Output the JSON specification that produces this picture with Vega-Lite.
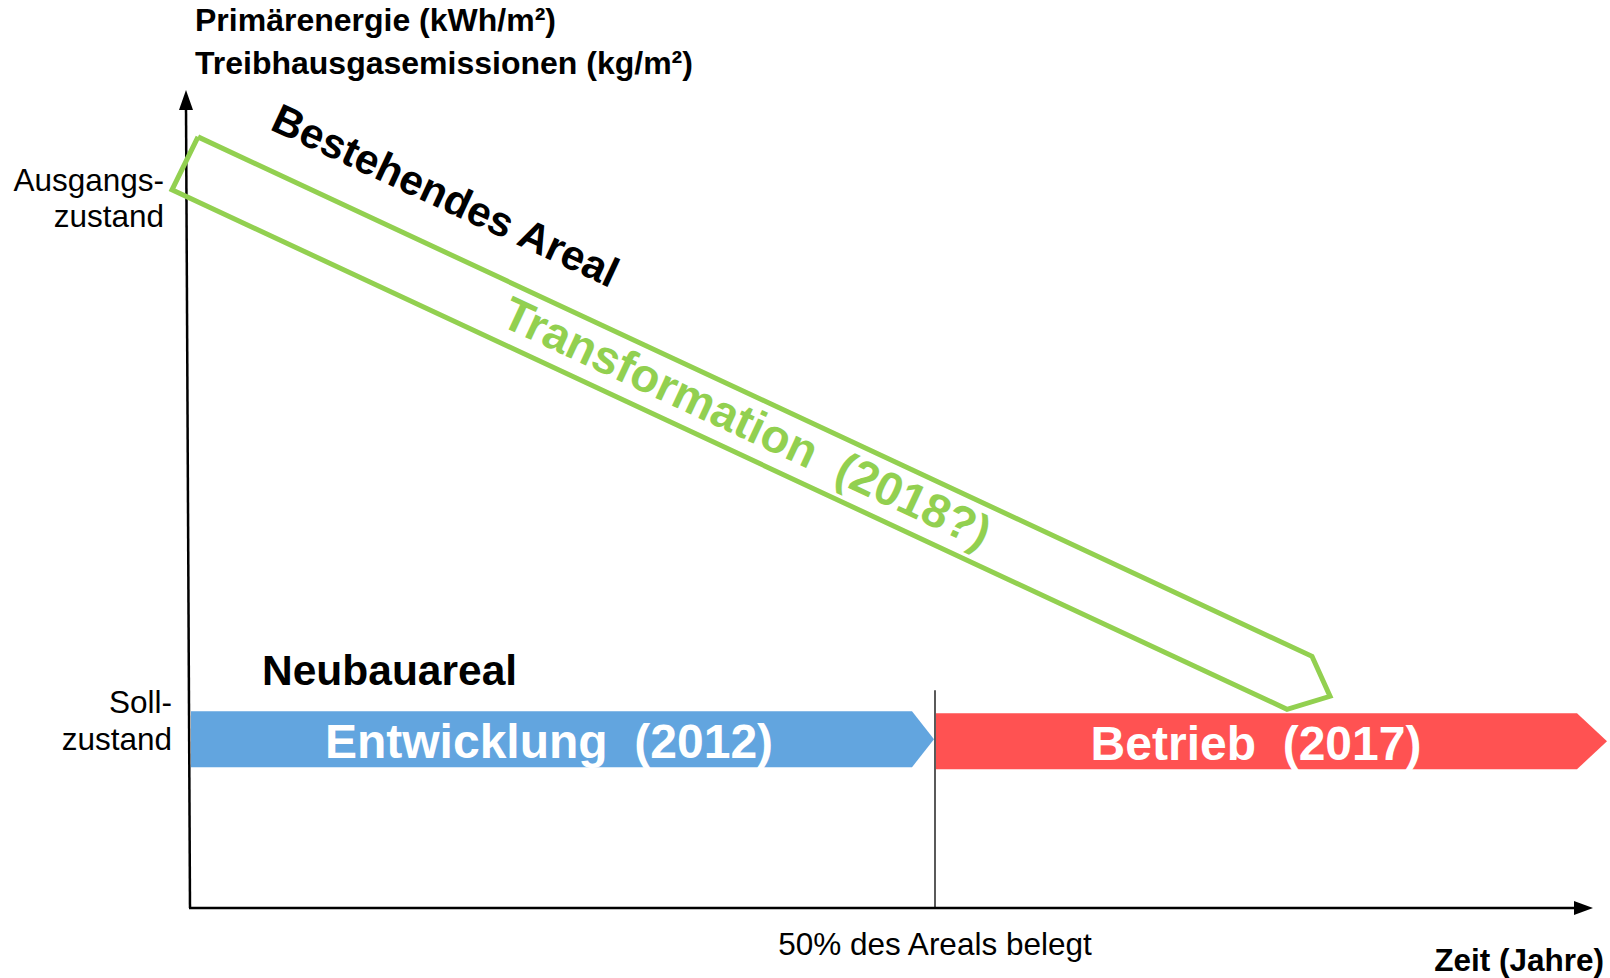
{
  "$schema": "https://vega.github.io/schema/vega-lite/v6.json",
  "width": 1610,
  "height": 978,
  "padding": 0,
  "autosize": {"type": "fit", "contains": "padding"},
  "background": "white",
  "config": {"view": {"stroke": null}, "text": {"font": "Liberation Sans"}},
  "layer": [
    {
      "data": {"values": [
        {"part": "Entwicklung", "x": 191, "y": 712, "y2": 768},
        {"part": "Entwicklung", "x": 912, "y": 712, "y2": 768},
        {"part": "Entwicklung", "x": 934, "y": 740, "y2": 740},
        {"part": "Betrieb", "x": 936, "y": 714, "y2": 770},
        {"part": "Betrieb", "x": 1577, "y": 714, "y2": 770},
        {"part": "Betrieb", "x": 1607, "y": 742, "y2": 742},
        {"part": "Achse Y", "x": 179, "y": 110, "y2": 110},
        {"part": "Achse Y", "x": 186, "y": 90, "y2": 110},
        {"part": "Achse Y", "x": 193, "y": 110, "y2": 110},
        {"part": "Achse X", "x": 1574, "y": 902, "y2": 916},
        {"part": "Achse X", "x": 1593, "y": 909, "y2": 909}
      ]},
      "mark": {"type": "area", "interpolate": "linear", "opacity": 1},
      "encoding": {
        "x": {"field": "x", "type": "quantitative", "scale": {"domain": [0, 1610], "nice": false, "zero": false}, "axis": null},
        "y": {"field": "y", "type": "quantitative", "scale": {"domain": [0, 978], "nice": false, "zero": false, "reverse": true}, "axis": null},
        "y2": {"field": "y2"},
        "color": {"field": "part", "type": "nominal", "scale": {"domain": ["Entwicklung", "Betrieb", "Achse Y", "Achse X"], "range": ["#62A5DF", "#FF5252", "#000000", "#000000"]}, "legend": null}
      }
    },
    {
      "data": {"values": [
        {"seg": "y", "i": 0, "x": 190, "y": 909},
        {"seg": "y", "i": 1, "x": 186, "y": 106},
        {"seg": "x", "i": 0, "x": 189, "y": 909},
        {"seg": "x", "i": 1, "x": 1578, "y": 909}
      ]},
      "mark": {"type": "line", "color": "#000000", "strokeWidth": 2.5},
      "encoding": {
        "x": {"field": "x", "type": "quantitative", "scale": {"domain": [0, 1610], "nice": false, "zero": false}, "axis": null},
        "y": {"field": "y", "type": "quantitative", "scale": {"domain": [0, 978], "nice": false, "zero": false, "reverse": true}, "axis": null},
        "detail": {"field": "seg"},
        "order": {"field": "i"}
      }
    },
    {
      "data": {"values": [{"x": 935, "y": 691, "y2": 909}]},
      "mark": {"type": "rule", "color": "#000000", "strokeWidth": 1.3},
      "encoding": {
        "x": {"field": "x", "type": "quantitative", "scale": {"domain": [0, 1610], "nice": false, "zero": false}, "axis": null},
        "y": {"field": "y", "type": "quantitative", "scale": {"domain": [0, 978], "nice": false, "zero": false, "reverse": true}, "axis": null},
        "y2": {"field": "y2"}
      }
    },
    {
      "data": {"values": [
        {"i": 0, "x": 198, "y": 137},
        {"i": 1, "x": 1312, "y": 657},
        {"i": 2, "x": 1330, "y": 697},
        {"i": 3, "x": 1287, "y": 710},
        {"i": 4, "x": 172, "y": 190},
        {"i": 5, "x": 198, "y": 137}
      ]},
      "mark": {"type": "line", "color": "#92D050", "strokeWidth": 5, "strokeJoin": "miter"},
      "encoding": {
        "x": {"field": "x", "type": "quantitative", "scale": {"domain": [0, 1610], "nice": false, "zero": false}, "axis": null},
        "y": {"field": "y", "type": "quantitative", "scale": {"domain": [0, 978], "nice": false, "zero": false, "reverse": true}, "axis": null},
        "order": {"field": "i"}
      }
    },
    {
      "data": {"values": [
        {"label": "Primärenergie (kWh/m²)", "x": 195, "y": 31},
        {"label": "Treibhausgasemissionen (kg/m²)", "x": 195, "y": 74}
      ]},
      "mark": {"type": "text", "fontWeight": "bold", "fontSize": 32, "align": "left", "baseline": "alphabetic", "color": "#000000"},
      "encoding": {
        "x": {"field": "x", "type": "quantitative", "scale": {"domain": [0, 1610], "nice": false, "zero": false}, "axis": null},
        "y": {"field": "y", "type": "quantitative", "scale": {"domain": [0, 978], "nice": false, "zero": false, "reverse": true}, "axis": null},
        "text": {"field": "label"}
      }
    },
    {
      "data": {"values": [
        {"label": "Ausgangs-", "x": 164, "y": 191},
        {"label": "zustand", "x": 164, "y": 227},
        {"label": "Soll-", "x": 172, "y": 714},
        {"label": "zustand", "x": 172, "y": 751}
      ]},
      "mark": {"type": "text", "fontSize": 31.5, "align": "right", "baseline": "alphabetic", "color": "#000000"},
      "encoding": {
        "x": {"field": "x", "type": "quantitative", "scale": {"domain": [0, 1610], "nice": false, "zero": false}, "axis": null},
        "y": {"field": "y", "type": "quantitative", "scale": {"domain": [0, 978], "nice": false, "zero": false, "reverse": true}, "axis": null},
        "text": {"field": "label"}
      }
    },
    {
      "data": {"values": [{"label": "50% des Areals belegt", "x": 935, "y": 956}]},
      "mark": {"type": "text", "fontSize": 31.5, "align": "center", "baseline": "alphabetic", "color": "#000000"},
      "encoding": {
        "x": {"field": "x", "type": "quantitative", "scale": {"domain": [0, 1610], "nice": false, "zero": false}, "axis": null},
        "y": {"field": "y", "type": "quantitative", "scale": {"domain": [0, 978], "nice": false, "zero": false, "reverse": true}, "axis": null},
        "text": {"field": "label"}
      }
    },
    {
      "data": {"values": [{"label": "Zeit (Jahre)", "x": 1604, "y": 972}]},
      "mark": {"type": "text", "fontSize": 31.5, "fontWeight": "bold", "align": "right", "baseline": "alphabetic", "color": "#000000"},
      "encoding": {
        "x": {"field": "x", "type": "quantitative", "scale": {"domain": [0, 1610], "nice": false, "zero": false}, "axis": null},
        "y": {"field": "y", "type": "quantitative", "scale": {"domain": [0, 978], "nice": false, "zero": false, "reverse": true}, "axis": null},
        "text": {"field": "label"}
      }
    },
    {
      "data": {"values": [{"label": "Neubauareal", "x": 262, "y": 686}]},
      "mark": {"type": "text", "fontSize": 42.5, "fontWeight": "bold", "align": "left", "baseline": "alphabetic", "color": "#000000"},
      "encoding": {
        "x": {"field": "x", "type": "quantitative", "scale": {"domain": [0, 1610], "nice": false, "zero": false}, "axis": null},
        "y": {"field": "y", "type": "quantitative", "scale": {"domain": [0, 978], "nice": false, "zero": false, "reverse": true}, "axis": null},
        "text": {"field": "label"}
      }
    },
    {
      "data": {"values": [
        {"label": "Entwicklung\u00a0 (2012)", "x": 549, "y": 759},
        {"label": "Betrieb\u00a0 (2017)", "x": 1256, "y": 761}
      ]},
      "mark": {"type": "text", "fontSize": 48, "fontWeight": "bold", "align": "center", "baseline": "alphabetic", "color": "#FFFFFF"},
      "encoding": {
        "x": {"field": "x", "type": "quantitative", "scale": {"domain": [0, 1610], "nice": false, "zero": false}, "axis": null},
        "y": {"field": "y", "type": "quantitative", "scale": {"domain": [0, 978], "nice": false, "zero": false, "reverse": true}, "axis": null},
        "text": {"field": "label"}
      }
    },
    {
      "data": {"values": [{"label": "Bestehendes Areal", "x": 445, "y": 197}]},
      "mark": {"type": "text", "fontSize": 42, "fontWeight": "bold", "align": "center", "baseline": "middle", "angle": 25, "color": "#000000"},
      "encoding": {
        "x": {"field": "x", "type": "quantitative", "scale": {"domain": [0, 1610], "nice": false, "zero": false}, "axis": null},
        "y": {"field": "y", "type": "quantitative", "scale": {"domain": [0, 978], "nice": false, "zero": false, "reverse": true}, "axis": null},
        "text": {"field": "label"}
      }
    },
    {
      "data": {"values": [{"label": "Transformation\u00a0 (2018?)", "x": 746, "y": 425}]},
      "mark": {"type": "text", "fontSize": 47, "fontWeight": "bold", "align": "center", "baseline": "middle", "angle": 25, "color": "#92D050"},
      "encoding": {
        "x": {"field": "x", "type": "quantitative", "scale": {"domain": [0, 1610], "nice": false, "zero": false}, "axis": null},
        "y": {"field": "y", "type": "quantitative", "scale": {"domain": [0, 978], "nice": false, "zero": false, "reverse": true}, "axis": null},
        "text": {"field": "label"}
      }
    }
  ]
}
